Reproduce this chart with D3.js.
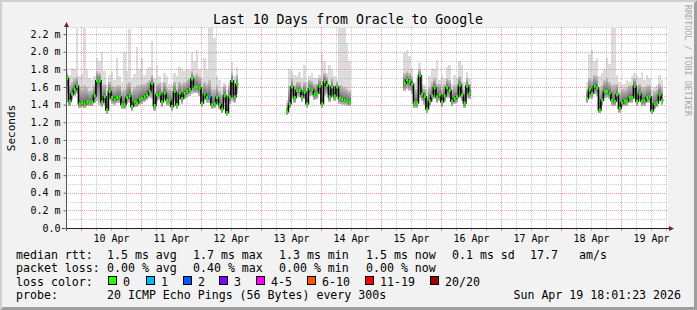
<!DOCTYPE html>
<html>
<head>
<meta charset="utf-8">
<script src="https://cdn.jsdelivr.net/npm/d3@7"></script>
<style>
body { margin: 0; background: #f2f2f2; }
svg { display: block; font-family: "DejaVu Sans Mono", monospace; }
</style>
</head>
<body>
<svg id="chart"></svg>
<script>
// graph time range (10 days ending at the print time)
var startTime = Date.UTC(2026, 3, 9, 18, 1, 23),
    endTime = Date.UTC(2026, 3, 19, 18, 1, 23),
    firstHour = Date.UTC(2026, 3, 9, 18, 0, 0),
    hour = 3600 * 1000;

// hourly samples, each block starts at segmentStart hours after firstHour (ms)
var segmentStart = [0, 88, 135, 208];

var median1 = [1.70,1.44,1.52,1.57,1.61,1.41,1.42,1.41,1.43,1.43, 1.43,1.50,1.67,1.67,1.43,1.49,1.34,1.55,1.48,1.46,
  1.48,1.49,1.40,1.40,1.48,1.50,1.38,1.43,1.42,1.46, 1.47,1.49,1.51,1.55,1.64,1.39,1.51,1.52,1.43,1.53,
  1.45,1.45,1.38,1.55,1.40,1.53,1.47,1.53,1.55,1.57, 1.69,1.60,1.60,1.59,1.42,1.52,1.48,1.49,1.40,1.41,
  1.48,1.40,1.35,1.50,1.31,1.49,1.67,1.49,1.63];
var low1 = [1.52,1.38,1.45,1.50,1.52,1.36,1.37,1.36,1.38,1.38, 1.38,1.42,1.44,1.40,1.37,1.40,1.29,1.45,1.41,1.40,
  1.42,1.42,1.35,1.35,1.41,1.42,1.33,1.37,1.37,1.40, 1.41,1.43,1.45,1.48,1.46,1.33,1.43,1.45,1.37,1.46,
  1.39,1.39,1.33,1.44,1.35,1.45,1.41,1.46,1.48,1.50, 1.52,1.53,1.53,1.50,1.37,1.45,1.42,1.42,1.35,1.36,
  1.42,1.35,1.30,1.42,1.27,1.41,1.44,1.42,1.52];
var mid1 = [1.76,1.62,1.66,1.70,1.72,1.60,1.58,1.62,1.60,1.56, 1.57,1.62,1.78,1.76,1.62,1.64,1.52,1.66,1.62,1.60,
  1.62,1.62,1.56,1.58,1.64,1.66,1.56,1.60,1.62,1.62, 1.64,1.64,1.66,1.68,1.74,1.56,1.64,1.65,1.58,1.66,
  1.60,1.58,1.55,1.66,1.58,1.66,1.64,1.66,1.68,1.70, 1.78,1.74,1.76,1.72,1.60,1.66,1.64,1.68,1.58,1.58,
  1.62,1.56,1.52,1.62,1.50,1.62,1.76,1.64,1.74];
var high1 = [1.80,1.74,1.82,1.80,2.28,1.72,1.75,2.28,1.80,1.70, 1.68,1.72,1.93,1.90,2.00,1.78,1.62,1.74,1.77,1.68,
  1.93,1.72,1.66,2.00,1.78,2.26,1.70,1.75,2.06,1.80, 1.93,1.74,1.80,1.83,2.12,1.70,1.85,1.72,1.66,1.76,
  1.72,1.64,1.62,1.76,1.72,1.83,1.80,1.78,1.80,1.79, 1.99,1.90,2.02,1.80,1.70,1.93,1.80,2.28,2.28,2.16,
  1.72,1.68,1.60,1.65,1.58,1.66,1.88,1.72,1.83];

var median2 = [1.32,1.41,1.60,1.48,1.56,1.56,1.49,1.54,1.41,1.58, 1.57,1.52,1.53,1.61,1.41,1.66,1.62,1.49,1.60,1.50,
  1.60,1.47,1.46,1.45,1.44,1.43];
var low2 = [1.28,1.36,1.50,1.42,1.48,1.49,1.43,1.46,1.36,1.50, 1.50,1.45,1.46,1.52,1.36,1.50,1.52,1.43,1.50,1.44,
  1.50,1.41,1.40,1.40,1.39,1.38];
var mid2 = [1.38,1.62,1.70,1.62,1.66,1.66,1.60,1.66,1.56,1.68, 1.67,1.64,1.64,1.70,1.58,1.76,1.72,1.62,1.70,1.62,
  1.66,1.62,1.62,1.60,1.58,1.56];
var high2 = [1.45,1.80,1.78,1.74,1.72,1.77,1.70,1.85,1.66,1.72, 1.76,1.70,1.70,1.74,1.97,1.90,1.76,1.85,1.80,1.72,
  1.68,2.28,2.28,2.28,2.10,1.90];

var median3 = [1.64,1.68,1.66,1.63,1.42,1.42,1.73,1.52,1.49,1.35, 1.44,1.50,1.59,1.49,1.51,1.43,1.50,1.59,1.56,1.44,
  1.47,1.49,1.62,1.51,1.42,1.61,1.53];
var low3 = [1.55,1.58,1.56,1.52,1.36,1.36,1.48,1.44,1.40,1.30, 1.38,1.43,1.46,1.42,1.44,1.37,1.43,1.47,1.47,1.38,
  1.41,1.42,1.48,1.44,1.36,1.48,1.46];
var mid3 = [1.76,1.78,1.76,1.72,1.58,1.58,1.80,1.64,1.58,1.50, 1.60,1.66,1.70,1.64,1.64,1.58,1.64,1.70,1.68,1.58,
  1.62,1.62,1.72,1.66,1.58,1.70,1.64];
var high3 = [1.99,2.02,1.95,1.82,1.66,1.70,1.87,1.74,1.62,1.58, 1.72,1.82,1.80,1.91,1.68,1.74,1.70,1.83,1.85,1.64,
  1.74,1.70,1.89,1.85,1.66,1.77,1.70];

var median4 = [1.47,1.57,1.53,1.61,1.59,1.34,1.45,1.55,1.55,1.53, 1.45,1.44,1.51,1.36,1.42,1.44,1.44,1.48,1.48,1.61,
  1.44,1.52,1.44,1.44,1.48,1.49,1.33,1.41,1.42,1.51, 1.45];
var low4 = [1.42,1.48,1.46,1.52,1.50,1.30,1.39,1.47,1.48,1.46, 1.39,1.38,1.44,1.31,1.37,1.38,1.39,1.42,1.42,1.46,
  1.38,1.45,1.38,1.39,1.42,1.42,1.29,1.35,1.37,1.44, 1.40];
var mid4 = [1.56,1.70,1.68,1.74,1.72,1.58,1.62,1.68,1.70,1.66, 1.62,1.64,1.64,1.54,1.58,1.58,1.60,1.62,1.62,1.70,
  1.60,1.64,1.60,1.60,1.62,1.62,1.50,1.56,1.58,1.64, 1.60];
var high4 = [1.66,1.97,2.02,1.89,1.93,1.72,1.76,1.80,1.93,1.86, 2.28,2.28,1.74,1.66,1.62,1.64,1.68,1.66,1.72,1.76,
  1.74,1.70,1.77,1.68,1.74,1.70,1.58,1.60,1.62,1.74, 1.68];

// hours (after firstHour) that had packet loss: [hour, lost pings]
var lossHours = [[57, 1]];

// loss colour legend
var lossLabels = ["0", "1", "2", "3", "4-5", "6-10", "11-19", "20/20"];
var lossColors = ["#26ff00", "#00b8ff", "#0059ff", "#7e00ff", "#ff00ff", "#ff5500", "#ff0000", "#a10000"];
var lossLimits = [0, 1, 2, 3, 5, 10, 19, 20];

// axis ticks / labels
var yTicks = [0, 0.2, 0.4, 0.6, 0.8, 1.0, 1.2, 1.4, 1.6, 1.8, 2.0, 2.2];
var dayNumbers = [10, 11, 12, 13, 14, 15, 16, 17, 18, 19];
var dayLabels = ["10 Apr", "11 Apr", "12 Apr", "13 Apr", "14 Apr", "15 Apr", "16 Apr", "17 Apr", "18 Apr", "19 Apr"];

// legend texts
var rttStats = ["1.5 ms avg", "1.7 ms max", "1.3 ms min", "1.5 ms now", "0.1 ms sd", "17.7", "am/s"];
var lossStats = ["0.00 % avg", "0.40 % max", "0.00 % min", "0.00 % now"];
var probeText = "20 ICMP Echo Pings (56 Bytes) every 300s";
var stampText = "Sun Apr 19 18:01:23 2026";

var W = 697, H = 310;
var plot = { left: 66, right: 666, top: 28, bottom: 228 };
var yMax = 2.27;

var svg = d3.select("#chart").attr("width", W).attr("height", H);

// background + shaded frame
svg.append("rect").attr("width", W).attr("height", H).attr("fill", "#f2f2f2");
svg.append("path").attr("d", "M0,0H" + W + "L" + (W - 2) + ",2H2V" + (H - 2) + "L0," + H + "Z").attr("fill", "#cfcfcf");
svg.append("path").attr("d", "M" + W + ",0V" + H + "H0L3," + (H - 3) + "H" + (W - 3) + "V3Z").attr("fill", "#9e9e9e");

// canvas
svg.append("rect")
    .attr("x", plot.left).attr("y", plot.top - 1)
    .attr("width", plot.right - plot.left + 2).attr("height", plot.bottom - plot.top + 1)
    .attr("fill", "#ffffff");

// scales
var x = d3.scaleUtc().domain([startTime, endTime]).range([plot.left, plot.right]);
var y = d3.scaleLinear().domain([0, yMax]).range([plot.bottom, plot.top]).clamp(true);

// gradients for the smoke
var defs = svg.append("defs");
var gUp = defs.append("linearGradient").attr("id", "smokeUp").attr("x1", 0).attr("y1", 1).attr("x2", 0).attr("y2", 0);
gUp.append("stop").attr("offset", 0).attr("stop-color", "#666666");
gUp.append("stop").attr("offset", 1).attr("stop-color", "#c6c6c6");
var gDown = defs.append("linearGradient").attr("id", "smokeDown").attr("x1", 0).attr("y1", 0).attr("x2", 0).attr("y2", 1);
gDown.append("stop").attr("offset", 0).attr("stop-color", "#666666");
gDown.append("stop").attr("offset", 1).attr("stop-color", "#c4c4c4");

var segments = segmentStart.map(function(s, k) {
    return {
        start: s,
        med: [median1, median2, median3, median4][k],
        lo: [low1, low2, low3, low4][k],
        mid: [mid1, mid2, mid3, mid4][k],
        hi: [high1, high2, high3, high4][k]
    };
});

// smoke
var gSmoke = svg.append("g").attr("shape-rendering", "crispEdges");
segments.forEach(function(seg) {
    seg.med.forEach(function(m, i) {
        var t0 = firstHour + (seg.start + i) * hour;
        var x0 = x(t0), x1 = x(t0 + hour);
        gSmoke.append("rect").attr("x", x0).attr("width", x1 - x0)
            .attr("y", y(seg.hi[i])).attr("height", y(seg.mid[i]) - y(seg.hi[i]))
            .attr("fill", "#dcdcdc");
        gSmoke.append("rect").attr("x", x0).attr("width", x1 - x0)
            .attr("y", y(seg.mid[i])).attr("height", Math.max(0, y(m) - y(seg.mid[i])))
            .attr("fill", "url(#smokeUp)");
        gSmoke.append("rect").attr("x", x0).attr("width", x1 - x0)
            .attr("y", y(m)).attr("height", Math.max(0, y(seg.lo[i]) - y(m)))
            .attr("fill", "url(#smokeDown)");
    });
});

// grid
var gGrid = svg.append("g").attr("stroke-width", 1).attr("stroke-dasharray", "1,1");
d3.range(1, 23).forEach(function(k) {
    var yy = Math.round(y(k / 10)) + 0.5;
    gGrid.append("line")
        .attr("x1", plot.left).attr("x2", plot.right + 2)
        .attr("y1", yy).attr("y2", yy)
        .attr("stroke", k % 2 === 0 ? "rgba(222,79,79,0.55)" : "rgba(143,143,143,0.45)");
});
gGrid.append("line")
    .attr("x1", plot.left).attr("x2", plot.right + 2)
    .attr("y1", plot.top - 0.5).attr("y2", plot.top - 0.5)
    .attr("stroke", "rgba(143,143,143,0.45)");
var sixHours = d3.utcHour.every(6).range(new Date(startTime), new Date(endTime));
sixHours.forEach(function(d) {
    var xx = Math.round(x(d)) + 0.5;
    var major = d.getUTCHours() === 0;
    gGrid.append("line")
        .attr("x1", xx).attr("x2", xx)
        .attr("y1", plot.top - 1).attr("y2", plot.bottom)
        .attr("stroke", major ? "rgba(222,79,79,0.55)" : "rgba(143,143,143,0.45)");
    // small tick under the axis
    svg.append("line")
        .attr("x1", xx).attr("x2", xx)
        .attr("y1", plot.bottom + 1).attr("y2", plot.bottom + 3)
        .attr("stroke", major ? "rgba(222,79,79,0.7)" : "rgba(143,143,143,0.6)");
});

// median line with loss colour marks
var stepLine = d3.line().x(function(p) { return x(p[0]); }).y(function(p) { return y(p[1]); });
var lossByHour = {};
lossHours.forEach(function(l) { lossByHour[l[0]] = l[1]; });
function lossColor(n) {
    for (var k = 0; k < lossLimits.length; k++) if (n <= lossLimits[k]) return lossColors[k];
    return lossColors[lossColors.length - 1];
}
segments.forEach(function(seg) {
    var pts = [];
    seg.med.forEach(function(m, i) {
        var t0 = firstHour + (seg.start + i) * hour;
        pts.push([t0, m], [t0 + hour, m]);
    });
    svg.append("path")
        .attr("d", stepLine(pts))
        .attr("fill", "none")
        .attr("stroke", "#000")
        .attr("stroke-width", 1.6);
    seg.med.forEach(function(m, i) {
        var h = seg.start + i, t0 = firstHour + h * hour;
        var xc = (x(t0) + x(t0 + hour)) / 2;
        svg.append("rect")
            .attr("x", xc - 1.1).attr("width", 2.2)
            .attr("y", y(m) - 1.5).attr("height", 3)
            .attr("fill", lossColor(lossByHour[h] || 0));
    });
});

// axes
var axisColor = "#1f1f1f", arrowColor = "#801f1f";
svg.append("line")
    .attr("x1", plot.left - 4).attr("x2", plot.right + 4)
    .attr("y1", plot.bottom + 0.5).attr("y2", plot.bottom + 0.5)
    .attr("stroke", axisColor);
svg.append("line")
    .attr("x1", plot.left + 0.5).attr("x2", plot.left + 0.5)
    .attr("y1", plot.bottom + 3).attr("y2", plot.top - 4)
    .attr("stroke", "#555");
svg.append("path")
    .attr("d", "M" + (plot.right + 3) + "," + (plot.bottom - 2) + "L" + (plot.right + 8) + "," + (plot.bottom + 0.5) +
        "L" + (plot.right + 3) + "," + (plot.bottom + 3) + "Z")
    .attr("fill", arrowColor);
svg.append("path")
    .attr("d", "M" + (plot.left - 2) + "," + (plot.top - 1) + "L" + (plot.left + 0.5) + "," + (plot.top - 6) +
        "L" + (plot.left + 3) + "," + (plot.top - 1) + "Z")
    .attr("fill", arrowColor);

var yAxis = svg.append("g")
    .attr("transform", "translate(" + (plot.left + 0.5) + ",0)")
    .call(d3.axisLeft(y).tickValues(yTicks).tickSize(3).tickPadding(3)
        .tickFormat(function(d) { return d === 0 ? "0.0" : d.toFixed(1) + " m"; }));
yAxis.select(".domain").remove();
yAxis.selectAll(".tick line").attr("stroke", "#666");
yAxis.selectAll("text").attr("font-family", "DejaVu Sans Mono").attr("font-size", "10px").attr("fill", "#000");

var noons = dayNumbers.map(function(d) { return new Date(Date.UTC(2026, 3, d, 12)); });
var xAxis = svg.append("g")
    .attr("transform", "translate(0," + plot.bottom + ")")
    .call(d3.axisBottom(x).tickValues(noons).tickSize(0).tickPadding(7)
        .tickFormat(function(d, i) { return dayLabels[i]; }));
xAxis.select(".domain").remove();
xAxis.selectAll("text").attr("font-family", "DejaVu Sans Mono").attr("font-size", "10px").attr("fill", "#000");

// title and side texts
svg.append("text")
    .attr("x", 348).attr("y", 23.5)
    .attr("text-anchor", "middle")
    .attr("font-size", "13.2px")
    .text("Last 10 Days from Oracle to Google");
svg.append("text")
    .attr("transform", "translate(14.5,128) rotate(-90)")
    .attr("text-anchor", "middle")
    .attr("font-size", "11px")
    .text("Seconds");
svg.append("text")
    .attr("transform", "translate(685,5) rotate(90)")
    .attr("font-size", "8.4px")
    .attr("fill", "#a8a8a8")
    .text("RRDTOOL / TOBI OETIKER");

// legend
var legend = svg.append("g").attr("font-size", "11.6px").attr("fill", "#000").style("white-space", "pre");
var colX = [107, 193, 279, 366, 452, 530, 579];
legend.append("text").attr("x", 16).attr("y", 258.5).text("median rtt:");
rttStats.forEach(function(s, i) {
    legend.append("text").attr("x", colX[i]).attr("y", 258.5).text(s);
});
legend.append("text").attr("x", 16).attr("y", 272).text("packet loss:");
lossStats.forEach(function(s, i) {
    legend.append("text").attr("x", colX[i]).attr("y", 272).text(s);
});
legend.append("text").attr("x", 16).attr("y", 285.5).text("loss color:");
var boxX = [108, 146, 183, 219, 256, 307, 365, 430];
lossLabels.forEach(function(l, i) {
    legend.append("rect")
        .attr("x", boxX[i] + 0.5).attr("y", 276.5)
        .attr("width", 8).attr("height", 8)
        .attr("fill", lossColors[i]).attr("stroke", "#000");
    legend.append("text").attr("x", boxX[i] + 15).attr("y", 285.5).text(l);
});
legend.append("text").attr("x", 16).attr("y", 299).text("probe:");
legend.append("text").attr("x", 107).attr("y", 299).text(probeText);
legend.append("text").attr("x", 681).attr("y", 299).attr("text-anchor", "end").text(stampText);
</script>
</body>
</html>
